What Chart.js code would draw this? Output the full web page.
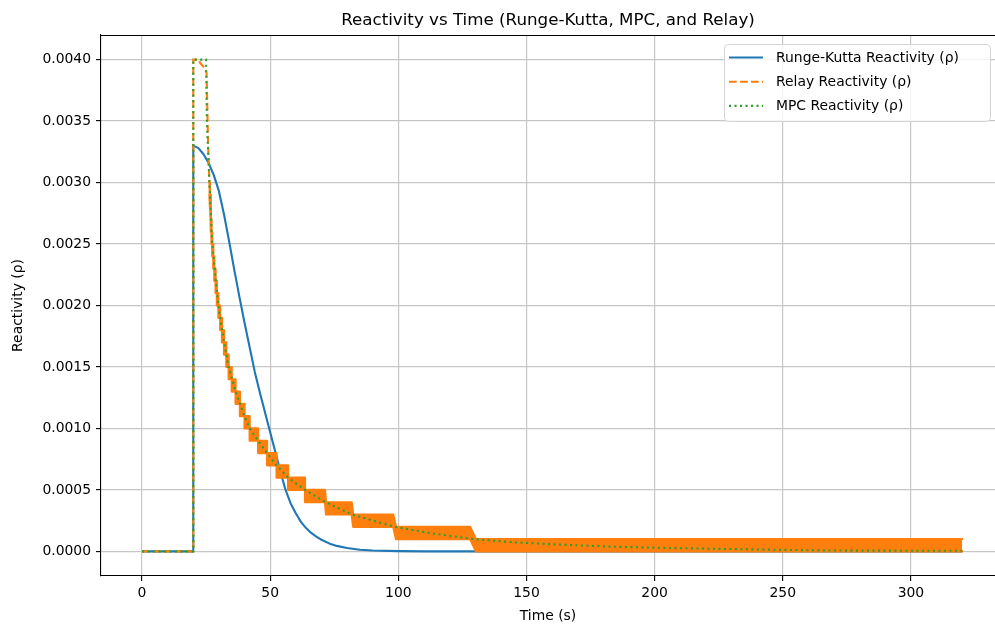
<!DOCTYPE html>
<html><head><meta charset="utf-8">
<script src="https://cdn.jsdelivr.net/npm/chart.js@4.4.0/dist/chart.umd.min.js"></script>
<style>html,body{margin:0;padding:0;background:#fff;overflow:hidden}#wrap{width:995px;height:628px;position:relative}</style>
</head><body><div id="wrap"><canvas id="c" width="995" height="628"></canvas></div>
<script>
// ---------- data ----------
const chartTitle = "Reactivity vs Time (Runge-Kutta, MPC, and Relay)";
const xAxisTitle = "Time (s)";
const yAxisTitle = "Reactivity (ρ)";
const seriesLabels = ["Runge-Kutta Reactivity (ρ)", "Relay Reactivity (ρ)", "MPC Reactivity (ρ)"];

const xTickValues = [0, 50, 100, 150, 200, 250, 300];
const yTickValues = [0, 0.0005, 0.0010, 0.0015, 0.0020, 0.0025, 0.0030, 0.0035, 0.0040];

const rkTime = [0, 20, 20, 22, 24, 26, 28, 30, 32, 34, 36, 38, 40, 42, 44, 46, 48, 50, 52, 54, 56, 58, 60, 62, 64, 66, 68, 70, 73, 76, 80, 85, 90, 100, 110, 320];
const rkReactivity = [0, 0, 0.00330, 0.00328, 0.00323, 0.00316, 0.00306, 0.00293, 0.00274, 0.00252, 0.00229, 0.00207, 0.00186, 0.00166, 0.00146, 0.00129, 0.00113, 0.00097, 0.00081, 0.00065, 0.00050, 0.00039, 0.00031, 0.00024, 0.00019, 0.00015, 0.00012, 0.000095, 0.000065, 0.000045, 0.000028, 0.000014, 0.000007, 0.000002, 0, 0];

const mpcTime = [0, 20, 20, 25, 25.3, 26.3, 27.4, 29.8, 31.2, 33.8, 36.5, 40.0, 42.0, 45.3, 48.8, 52.5, 57, 63.6, 71.6, 82, 98.5, 113.5, 129.5, 143.5, 160, 182.5, 205, 233, 268, 320];
const mpcReactivity = [0, 0, 0.004, 0.004, 0.0035, 0.0030, 0.0025, 0.0020, 0.0018, 0.0015, 0.0013, 0.0011, 0.0010, 0.0009, 0.0008, 0.0007, 0.0006, 0.0005, 0.0004, 0.0003, 0.0002, 0.000146, 0.0001, 0.000076, 0.000058, 0.000039, 0.000028, 0.000018, 0.000007, 0.000005];

// relay: initial trace, then rapid switching bands between two adjacent levels
const relayTime = [0, 20, 20, 22, 22.8, 24.5, 25.2, 25.8, 26.3];
const relayReactivity = [0, 0, 0.004, 0.004, 0.00397, 0.00393, 0.00389, 0.0033, 0.0030];
const relayBandStart = [26.3, 26.5, 26.7, 26.9, 27.1, 27.4, 27.8, 28.2, 28.7, 29.2, 29.8, 30.5, 31.2, 32.0, 32.9, 33.8, 35.0, 36.5, 38.2, 40.0, 42.0, 45.3, 48.8, 52.5, 57.0, 63.6, 71.8, 82.4, 99.1, 130.3];
const relayBandEnd = [26.5, 26.7, 26.9, 27.1, 27.4, 27.8, 28.2, 28.7, 29.2, 29.8, 30.5, 31.2, 32.0, 32.9, 33.8, 35.0, 36.5, 38.2, 40.0, 42.0, 45.3, 48.8, 52.5, 57.0, 63.6, 71.4, 81.8, 98.0, 128.0, 320];
const relayBandLow = [0.0029, 0.0028, 0.0027, 0.0026, 0.0025, 0.0024, 0.0023, 0.0022, 0.0021, 0.0020, 0.0019, 0.0018, 0.0017, 0.0016, 0.0015, 0.0014, 0.0013, 0.0012, 0.0011, 0.0010, 0.0009, 0.0008, 0.0007, 0.0006, 0.0005, 0.0004, 0.0003, 0.0002, 0.0001, 0.0000];
const relayBandHigh = [0.0030, 0.0029, 0.0028, 0.0027, 0.0026, 0.0025, 0.0024, 0.0023, 0.0022, 0.0021, 0.0020, 0.0019, 0.0018, 0.0017, 0.0016, 0.0015, 0.0014, 0.0013, 0.0012, 0.0011, 0.0010, 0.0009, 0.0008, 0.0007, 0.0006, 0.0005, 0.0004, 0.0003, 0.0002, 0.0001];

// ---------- styling ----------
const BLUE = '#1f77b4', ORANGE = '#ff7f0e', GREEN = '#2ca02c';
const FONT = '"DejaVu Sans", "Liberation Sans", sans-serif';
const DASH_ORANGE = [7.7, 3.3];
const DASH_GREEN = [2.1, 3.4];

const pts = (xs, ys) => xs.map((x, i) => ({x: x, y: ys[i]}));
const bandPts = (levels) => {
  const out = [];
  relayBandStart.forEach((s, i) => { out.push({x: s, y: levels[i]}); out.push({x: relayBandEnd[i], y: levels[i]}); });
  return out;
};

const common = {pointRadius: 0, pointHoverRadius: 0, tension: 0, fill: false, borderJoinStyle: 'round'};

const datasets = [
  Object.assign({}, common, {label: seriesLabels[2], data: pts(mpcTime, mpcReactivity), borderColor: GREEN, borderWidth: 2.1, borderDash: DASH_GREEN, borderCapStyle: 'butt', borderJoinStyle: 'miter', order: 0}),
  Object.assign({}, common, {label: seriesLabels[1], data: pts(relayTime, relayReactivity), borderColor: ORANGE, borderWidth: 2.1, borderDash: DASH_ORANGE, borderJoinStyle: 'miter', order: 1}),
  Object.assign({}, common, {label: 'relayHigh', data: bandPts(relayBandHigh), borderColor: ORANGE, backgroundColor: ORANGE, borderWidth: 2.2, borderCapStyle: 'round', fill: '+1', order: 2}),
  Object.assign({}, common, {label: 'relayLow', data: bandPts(relayBandLow), borderColor: ORANGE, borderWidth: 2.2, borderCapStyle: 'round', order: 3}),
  Object.assign({}, common, {label: seriesLabels[0], data: pts(rkTime, rkReactivity), borderColor: BLUE, borderWidth: 2.1, order: 4})
];

const legendItems = [
  {label: seriesLabels[0], color: BLUE, dash: []},
  {label: seriesLabels[1], color: ORANGE, dash: DASH_ORANGE},
  {label: seriesLabels[2], color: GREEN, dash: DASH_GREEN}
];

const decorPlugin = {
  id: 'decor',
  afterDraw(chart) {
    const ctx = chart.ctx, a = chart.chartArea;
    ctx.save();
    // top spine
    ctx.strokeStyle = '#000'; ctx.lineWidth = 1.1;
    ctx.beginPath(); ctx.moveTo(a.left, a.top + 0.5); ctx.lineTo(a.right, a.top + 0.5); ctx.stroke();
    // title
    ctx.fillStyle = '#000';
    ctx.font = '16.7px ' + FONT; ctx.textAlign = 'center'; ctx.textBaseline = 'alphabetic';
    ctx.fillText(chartTitle, 548, 25);
    // axis titles
    ctx.font = '13.9px ' + FONT;
    ctx.fillText(xAxisTitle, 548, 620);
    ctx.save(); ctx.translate(22, 305.5); ctx.rotate(-Math.PI / 2); ctx.fillText(yAxisTitle, 0, 0); ctx.restore();
    // legend
    const bx = 724.5, by = 44.5, bw = 266, bh = 77, r = 4;
    ctx.beginPath();
    ctx.moveTo(bx + r, by); ctx.lineTo(bx + bw - r, by); ctx.arcTo(bx + bw, by, bx + bw, by + r, r);
    ctx.lineTo(bx + bw, by + bh - r); ctx.arcTo(bx + bw, by + bh, bx + bw - r, by + bh, r);
    ctx.lineTo(bx + r, by + bh); ctx.arcTo(bx, by + bh, bx, by + bh - r, r);
    ctx.lineTo(bx, by + r); ctx.arcTo(bx, by, bx + r, by, r); ctx.closePath();
    ctx.fillStyle = 'rgba(255,255,255,0.8)'; ctx.fill();
    ctx.strokeStyle = '#d4d4d4'; ctx.lineWidth = 1; ctx.stroke();
    ctx.textAlign = 'left'; ctx.textBaseline = 'middle'; ctx.font = '13.9px ' + FONT;
    legendItems.forEach((it, i) => {
      const y = 57.5 + i * 24.2;
      ctx.strokeStyle = it.color; ctx.lineWidth = 2.1; ctx.setLineDash(it.dash); ctx.lineCap = 'butt';
      ctx.beginPath(); ctx.moveTo(729, y); ctx.lineTo(763, y); ctx.stroke();
      ctx.setLineDash([]);
      ctx.fillStyle = '#000'; ctx.fillText(it.label, 776, y + 0.5);
    });
    ctx.restore();
  }
};

new Chart(document.getElementById('c'), {
  type: 'line',
  data: {datasets: datasets},
  options: {
    responsive: false, animation: false, events: [],
    layout: {padding: {top: 35, right: 0, left: 0, bottom: 0}},
    plugins: {legend: {display: false}, title: {display: false}, tooltip: {enabled: false}},
    scales: {
      x: {
        type: 'linear', min: -16, max: 332.8,
        afterBuildTicks: s => { s.ticks = xTickValues.map(v => ({value: v})); },
        afterFit: s => { s.height = 52; },
        ticks: {color: '#000', font: {family: FONT, size: 13.9}, padding: 4, maxRotation: 0, autoSkip: false, callback: v => String(v)},
        grid: {color: '#c6c6c6', lineWidth: 1.2, drawTicks: true, tickLength: 5, tickColor: '#000', tickWidth: 1.1},
        border: {display: true, color: '#000', width: 1.1}
      },
      y: {
        type: 'linear', min: -0.0002, max: 0.0042,
        afterBuildTicks: s => { s.ticks = yTickValues.map(v => ({value: v})); },
        afterFit: s => { s.width = 101; },
        ticks: {color: '#000', font: {family: FONT, size: 13.9}, padding: 5, autoSkip: false, callback: v => Number(v).toFixed(4)},
        grid: {color: '#c6c6c6', lineWidth: 1.2, drawTicks: true, tickLength: 5, tickColor: '#000', tickWidth: 1.1},
        border: {display: true, color: '#000', width: 1.1}
      }
    }
  },
  plugins: [decorPlugin]
});
</script></body></html>
